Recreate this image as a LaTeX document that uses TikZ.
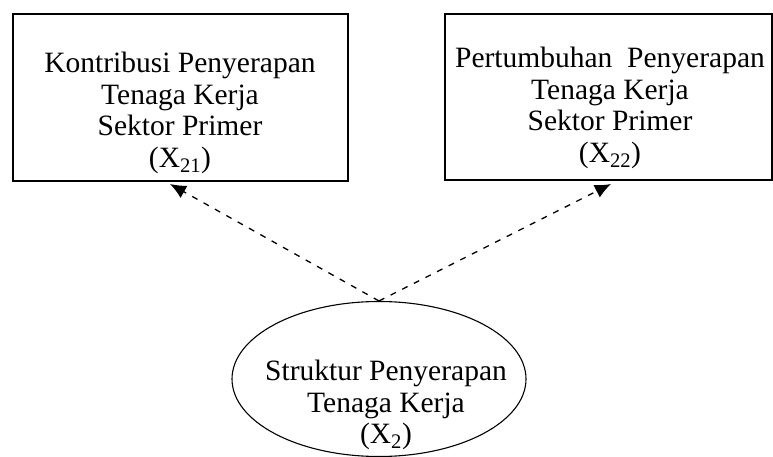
\documentclass[tikz,border=0pt]{standalone}
\usepackage{fontspec}
\setmainfont{Liberation Serif}
\usetikzlibrary{arrows.meta,shapes.geometric}
\begin{document}
\begin{tikzpicture}[x=1pt,y=-1pt,
  boxstyle/.style={draw,line width=1.4pt,rectangle,inner sep=0pt},
  ellstyle/.style={draw,line width=1.1pt,ellipse,inner sep=0pt},
  txt/.style={align=center,inner sep=0pt,font=\fontsize{29.5}{31.5}\selectfont},
  conn/.style={line width=1.3pt,dash pattern=on 6pt off 7pt,-{Latex[length=16pt,width=14pt]}}]
\useasboundingbox (0,0) rectangle (773,457);
\node[boxstyle,minimum width=335pt,minimum height=167pt] (lb) at (180.5,97.5) {};
\node[boxstyle,minimum width=327pt,minimum height=166pt] (rb) at (608.5,97) {};
\node[ellstyle,minimum width=294pt,minimum height=155pt] (el) at (379,379) {};
\node[txt] (lt) at (180,113) {Kontribusi Penyerapan\\Tenaga Kerja\\Sektor Primer\\(X\textsubscript{21})};
\node[txt] (rt) at (610,108) {Pertumbuhan\ \ Penyerapan\\Tenaga Kerja\\Sektor Primer\\(X\textsubscript{22})};
\node[txt] (et) at (386,405) {Struktur Penyerapan\\Tenaga Kerja\\(X\textsubscript{2})};
\coordinate (la) at (170,184);
\coordinate (ra) at (611,184);
\draw[conn] (el.north) -- (la);
\draw[conn] (el.north) -- (ra);
\end{tikzpicture}
\end{document}
